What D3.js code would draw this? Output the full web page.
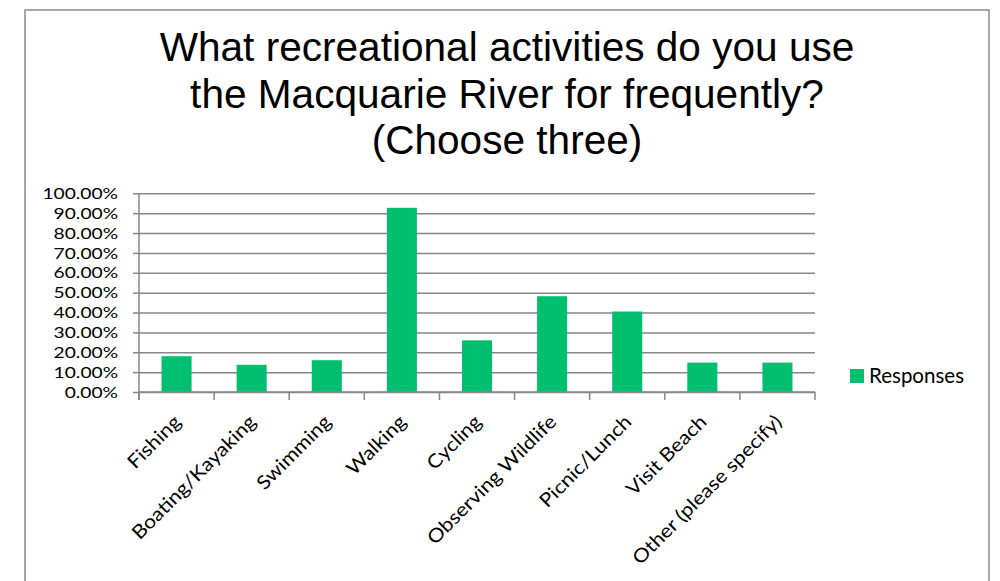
<!DOCTYPE html>
<html>
<head>
<meta charset="utf-8">
<script src="https://cdn.jsdelivr.net/npm/d3@7"></script>
<style>
  html, body { margin: 0; padding: 0; background: #ffffff; }
  svg { display: block; }
</style>
</head>
<body>
<svg id="chart" width="1000" height="581"></svg>
<script>
const titleLines = ["What recreational activities do you use", "the Macquarie River for frequently?", "(Choose three)"];
const categories = ["Fishing", "Boating/Kayaking", "Swimming", "Walking", "Cycling", "Observing Wildlife", "Picnic/Lunch", "Visit Beach", "Other (please specify)"];
const responses = [0.180, 0.137, 0.160, 0.927, 0.260, 0.482, 0.405, 0.148, 0.148];
const yTicks = [0, 0.1, 0.2, 0.3, 0.4, 0.5, 0.6, 0.7, 0.8, 0.9, 1.0];
const seriesName = "Responses";

const svg = d3.select("#chart");
const green = "#00bf6f";
const gridColor = "#878787";
const labelFont = "Lato, 'Open Sans', sans-serif";

// outer frame
svg.append("rect")
  .attr("x", 25).attr("y", 10).attr("width", 964).attr("height", 600)
  .attr("fill", "none").attr("stroke", "#8c8c8c").attr("stroke-width", 1.5);

// title
svg.append("g").selectAll("text").data(titleLines).join("text")
  .attr("x", 507).attr("y", (d, i) => 61 + i * 46.6)
  .attr("text-anchor", "middle")
  .attr("font-family", "'Liberation Sans', Arial, sans-serif")
  .attr("font-size", 40.6).attr("fill", "#000")
  .text(d => d);

const x = d3.scaleBand().domain(categories).range([139, 815]).paddingInner(0.6).paddingOuter(0.3);
const xEdges = d3.scaleLinear().domain([0, categories.length]).range([139, 815]);
const y = d3.scaleLinear().domain([0, 1]).range([392, 193.3]);

// gridlines + y axis
const sx = 1.2;
const yAxis = d3.axisLeft(y).tickValues(yTicks).tickFormat(d3.format(".2%")).tickSize(6).tickPadding(15);
const gy = svg.append("g").attr("transform", "translate(139,0)").call(yAxis);
gy.select(".domain").attr("stroke", gridColor).attr("stroke-width", 1.5).attr("d", "M0,193.3V400");
gy.selectAll(".tick line").attr("stroke", gridColor).attr("stroke-width", 1.5);
gy.selectAll(".tick").append("line").attr("x1", 0).attr("x2", 676)
  .attr("stroke", gridColor).attr("stroke-width", 1.5);
gy.selectAll(".tick text")
  .attr("font-family", labelFont).attr("font-size", 16).attr("fill", "#000")
  .attr("x", -21 / sx).attr("transform", `scale(${sx},1)`);

// bars
svg.append("g").selectAll("rect").data(responses).join("rect")
  .attr("x", (d, i) => x(categories[i]))
  .attr("y", d => y(d))
  .attr("width", x.bandwidth())
  .attr("height", d => y(0) - y(d))
  .attr("fill", green);

// x axis baseline and category ticks
const gx = svg.append("g");
gx.append("line").attr("x1", 139).attr("x2", 815).attr("y1", y(0)).attr("y2", y(0))
  .attr("stroke", gridColor).attr("stroke-width", 1.5);
gx.selectAll("line.tk").data(d3.range(categories.length + 1)).join("line")
  .attr("class", "tk")
  .attr("x1", d => xEdges(d)).attr("x2", d => xEdges(d))
  .attr("y1", y(0)).attr("y2", y(0) + 8)
  .attr("stroke", gridColor).attr("stroke-width", 1.5);

// rotated category labels
gx.selectAll("text").data(categories).join("text")
  .attr("transform", d => `translate(${x(d) + x.bandwidth() / 2 + 5.5},423) rotate(-45) scale(1.12,1)`)
  .attr("text-anchor", "end")
  .attr("font-family", labelFont).attr("font-size", 19).attr("fill", "#000")
  .text(d => d);

// legend
const lg = svg.append("g");
lg.append("rect").attr("x", 850).attr("y", 369).attr("width", 14).attr("height", 14).attr("fill", green);
lg.append("text").attr("x", 869).attr("y", 376).attr("dy", "0.35em")
  .attr("font-family", labelFont).attr("font-size", 20.5).attr("fill", "#000")
  .text(seriesName);
</script>
</body>
</html>
